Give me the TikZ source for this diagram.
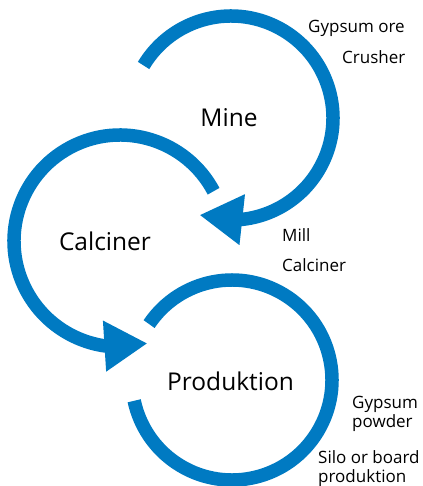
\documentclass[tikz,border=0pt]{standalone}
\usepackage{fontspec}
\setmainfont{Open Sans}
\usetikzlibrary{arrows.meta,bending}
\definecolor{cycleblue}{RGB}{0,122,194}
\begin{document}
\begin{tikzpicture}[x=1pt,y=1pt,
  ring/.style={draw=cycleblue,line width=13.5pt},
  ringtip/.style={-{Triangle[length=43pt,width=48pt]}},
  bigname/.style={font=\fontsize{24.5}{28}\selectfont,anchor=base,inner sep=0pt},
  smallname/.style={font=\fontsize{17}{19}\selectfont,align=left,anchor=base west,inner sep=0pt}]
  \useasboundingbox (0,0) rectangle (422,-486);
  \coordinate (cmine) at (231,-118);
  \coordinate (ccalc) at (120,-241);
  \coordinate (cprod) at (232,-380);
  % the three rings
  \draw[ring,ringtip] ([shift={(149:102)}]cmine) arc[start angle=149,end angle=-108,radius=102];
  \draw[ring,ringtip] ([shift={(28:106)}]ccalc) arc[start angle=28,end angle=285,radius=106];
  \draw[ring] ([shift={(146:100)}]cprod) arc[start angle=146,end angle=-168,radius=100];
  % stage names
  \node[bigname] (mine) at (229,-127) {Mine};
  \node[bigname] (calciner) at (105,-250) {Calciner};
  \node[bigname] (produktion) at (230.5,-390) {Produktion};
  % steps
  \node[smallname] (ore) at (308,-33) {Gypsum ore};
  \node[smallname] (crusher) at (342,-64) {Crusher};
  \node[smallname] (mill) at (282,-241) {Mill};
  \node[smallname] (calc) at (282,-271) {Calciner};
  \node[smallname] (powder) at (352,-427) {Gypsum\\powder};
  \node[smallname] (silo) at (318,-482) {Silo or board\\produktion};
\end{tikzpicture}
\end{document}
